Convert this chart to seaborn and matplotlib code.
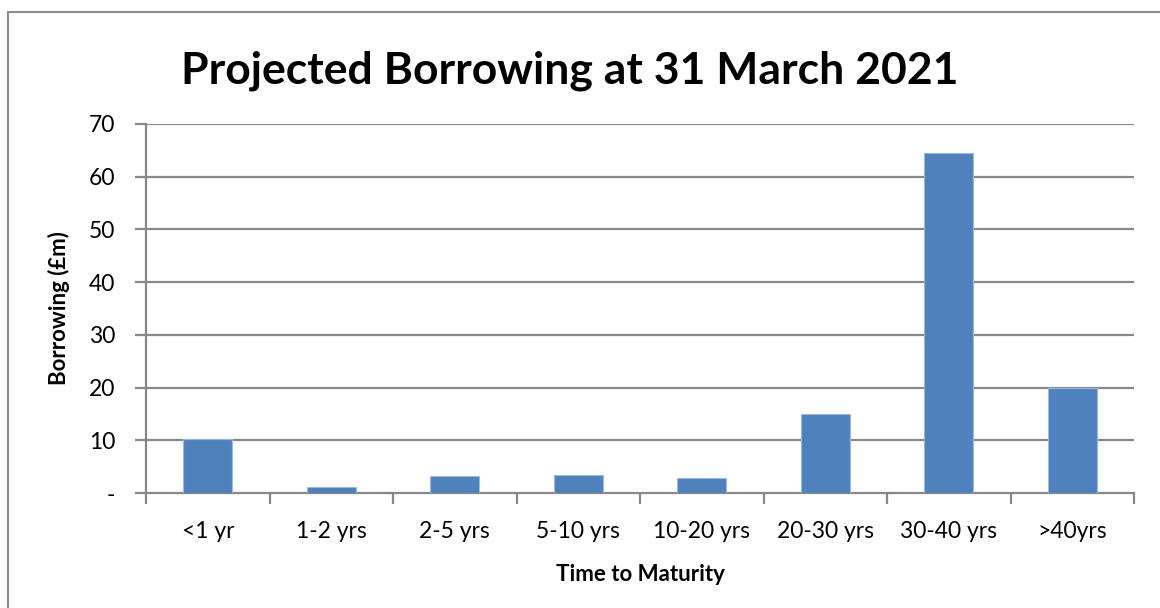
import numpy as np
import pandas as pd
import matplotlib
matplotlib.use('Agg')
import matplotlib.pyplot as plt
from matplotlib.lines import Line2D
import seaborn as sns

# data
maturity = ['<1 yr', '1-2 yrs', '2-5 yrs', '5-10 yrs', '10-20 yrs', '20-30 yrs', '30-40 yrs', '>40yrs']
borrowing = [10.3, 1.1, 3.2, 3.4, 2.9, 14.9, 64.5, 19.9]
y_ticks = [0, 10, 20, 30, 40, 50, 60, 70]
y_labels = ['-', '10', '20', '30', '40', '50', '60', '70']

df = pd.DataFrame({'Time to Maturity': maturity, 'Borrowing': borrowing})

sns.set_style('white')
plt.rcParams['font.family'] = ['Lato', 'DejaVu Sans']
plt.rcParams['text.color'] = 'black'
plt.rcParams['axes.labelcolor'] = 'black'
plt.rcParams['xtick.color'] = 'black'
plt.rcParams['ytick.color'] = 'black'

fig = plt.figure(figsize=(11.6, 6.08), dpi=100)
ax = fig.add_axes([146 / 1160, 1 - 493 / 608, (1134 - 146) / 1160, (493 - 124) / 608])

sns.barplot(data=df, x='Time to Maturity', y='Borrowing', color='#4F81BD',
            width=0.4, saturation=1, ax=ax, zorder=3, edgecolor='#9db8da', linewidth=0.8)

grid_c = '#888888'
ax.set_ylim(0, 70)
ax.set_xlim(-0.5, len(maturity) - 0.5)
ax.set_yticks(y_ticks)
ax.set_yticklabels(y_labels, fontsize=16.5)
for y in y_ticks[1:]:
    ax.axhline(y, color=grid_c, lw=1.6, zorder=1)

# category labels centred, tick marks on boundaries (Excel style)
ax.set_xticks(np.arange(-0.5, len(maturity), 1.0))
ax.set_xticklabels([])
ax.set_xticks(np.arange(len(maturity)), minor=True)
ax.set_xticklabels(maturity, minor=True, fontsize=16.5)
ax.tick_params(axis='x', which='minor', length=0, pad=20)
ax.tick_params(axis='x', which='major', length=8, width=1.6, color=grid_c, direction='out')
ax.tick_params(axis='y', length=8, width=1.6, color=grid_c, direction='out', pad=14)
ax.tick_params(axis='y', left=True)
ax.tick_params(axis='x', bottom=True)

for side in ['top', 'right']:
    ax.spines[side].set_visible(False)
for side in ['left', 'bottom']:
    ax.spines[side].set_color(grid_c)
    ax.spines[side].set_linewidth(1.6)

ax.set_xlabel('Time to Maturity', fontsize=16, fontweight='bold', labelpad=16)
ax.set_ylabel('Borrowing (£m)', fontsize=16, fontweight='bold', labelpad=14)

fig.text(570 / 1160, 1 - 71 / 608, 'Projected Borrowing at 31 March 2021',
         ha='center', va='center', fontsize=32, fontweight='bold')

# chart frame (runs off the right and bottom edges)
fig.add_artist(Line2D([8 / 1160, 8 / 1160], [0, 1 - 12 / 608], color='#8c8c8c', lw=1.5, transform=fig.transFigure))
fig.add_artist(Line2D([8 / 1160, 1], [1 - 12 / 608, 1 - 12 / 608], color='#8c8c8c', lw=1.5, transform=fig.transFigure))

fig.savefig('out.png', dpi=100)
